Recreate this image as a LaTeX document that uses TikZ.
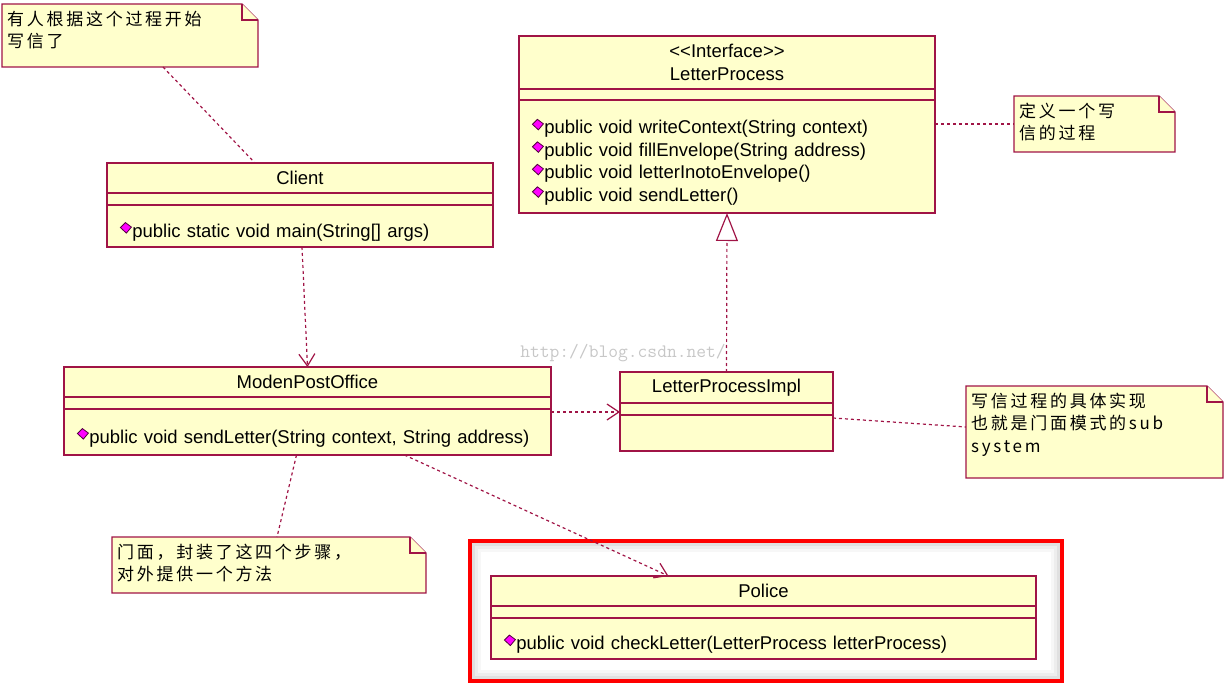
\documentclass[tikz,border=0pt]{standalone}
\usepackage{fontspec}
\setmainfont{Liberation Sans}
\newfontfamily\cjkfont[LetterSpace=16]{Noto Sans CJK SC}
\usetikzlibrary{positioning,arrows.meta,calc,backgrounds}

\definecolor{umlred}{RGB}{160,20,70}
\definecolor{umlfill}{RGB}{255,255,204}
\definecolor{opmagenta}{RGB}{255,0,255}
\definecolor{opedge}{RGB}{80,0,60}
\definecolor{markred}{RGB}{255,0,0}

% small operation icon in front of each method
\newcommand{\opmark}{\tikz[baseline={(0pt,-9pt)}]{\filldraw[draw=opedge, fill=opmagenta, line width=0.8pt] (0pt,0.5pt) -- (5pt,5.5pt) -- (11pt,1pt) -- (6pt,-5pt) -- cycle;}\hspace{0.5pt}}
% taller first line, pushes the methods down a little
\newcommand{\opsgap}{\rule{0pt}{26pt}}
% paper with folded corner behind a note
\newcommand{\notepaper}[1]{%
  \filldraw[notepaper] (#1.north west) -- ([xshift=-16pt]#1.north east) -- ([yshift=-16pt]#1.north east) -- (#1.south east) -- (#1.south west) -- cycle;
  \draw[notepaper] ([xshift=-16pt]#1.north east) |- ([yshift=-16pt]#1.north east);}

\begin{document}
\begin{tikzpicture}[x=1pt,y=-1pt]
		\tikzset{
			clsname/.style={draw=umlred, fill=umlfill, line width=1.2pt, outer sep=0pt, inner sep=2pt, align=center, font=\fontsize{18.5}{22.5}\selectfont},
			clsattr/.style={draw=umlred, fill=umlfill, line width=1.2pt, outer sep=0pt, inner sep=0pt, minimum height=12},
			clsops/.style={draw=umlred, fill=umlfill, line width=1.2pt, outer sep=0pt, inner xsep=13pt, inner ysep=0pt, align=left, font=\fontsize{18.5}{22.5}\selectfont},
			notebox/.style={anchor=north west, inner sep=0pt, outer sep=0pt},
			notetext/.style={anchor=north west, inner xsep=5pt, inner ysep=6.5pt, align=left, font=\cjkfont\fontsize{17}{22.5}\selectfont},
			notepaper/.style={draw=umlred, fill=umlfill, line width=1.2pt, line join=miter},
			noteline/.style={draw=umlred, line width=1.2pt, dash pattern=on 3pt off 3pt},
			dep/.style={noteline, -{Straight Barb[length=12pt, width=16pt, line width=1.2pt]}},
			realize/.style={noteline, -{Triangle[open, length=28pt, width=22pt, line width=1.2pt]}},
			hiframe/.style={draw=markred, line width=3.5pt},
			shadow/.style={line width=3pt, draw=black!#1},
			watermark/.style={text=black!22, font=\ttfamily\fontsize{19}{19}\selectfont}
		}
		\useasboundingbox (0,0) rectangle (1228,684);

		% Highlight round Police
		\draw[shadow=3] (479.5,550.5) rectangle (1052.5,671.5);
		\draw[shadow=7] (476.5,547.5) rectangle (1055.5,674.5);
		\draw[shadow=12] (473.5,544.5) rectangle (1058.5,677.5);
		\draw[hiframe] (470,541) rectangle (1062,681);

		\node[watermark] (blog) at (623,353) {http://blog.csdn.net/};

		% Client
		\node[clsname, anchor=north west, minimum width=386, minimum height=30] (client) at (107,163) {Client};
		\node[clsattr, minimum width=386, below=0pt of client] (client-attr) {};
		\node[clsops, text width=360pt, minimum height=42, below=0pt of client-attr] (client-ops) {\opsgap\opmark public static void main(String[] args)};

		% Interface LetterProcess
		\node[clsname, anchor=north west, minimum width=416, minimum height=53] (iface) at (519,36) {<\kern0pt<Interface>\kern0pt>\\LetterProcess};
		\node[clsattr, minimum width=416, minimum height=11, below=0pt of iface] (iface-attr) {};
		\node[clsops, text width=390pt, minimum height=113, below=0pt of iface-attr] (iface-ops) {\opsgap\opmark public void writeContext(String context)\\
			\opmark public void fillEnvelope(String address)\\
			\opmark public void letterInotoEnvelope()\\
			\opmark public void sendLetter()};

		% ModenPostOffice
		\node[clsname, anchor=north west, minimum width=487, minimum height=30] (mpo) at (64,367) {ModenPostOffice};
		\node[clsattr, minimum width=487, below=0pt of mpo] (mpo-attr) {};
		\node[clsops, text width=461pt, minimum height=46, below=0pt of mpo-attr] (mpo-ops) {\opsgap\opmark public void sendLetter(String context, String address)};

		% LetterProcessImpl
		\node[clsname, anchor=north west, minimum width=213, minimum height=31] (impl) at (620,372) {LetterProcessImpl};
		\node[clsattr, minimum width=213, below=0pt of impl] (impl-attr) {};
		\node[clsops, text width=187pt, minimum height=36, below=0pt of impl-attr] (impl-ops) {};

		% Police
		\node[clsname, anchor=north west, minimum width=545, minimum height=30] (police) at (491,576) {Police};
		\node[clsattr, minimum width=545, below=0pt of police] (police-attr) {};
		\node[clsops, text width=519pt, minimum height=41, below=0pt of police-attr] (police-ops) {\opsgap\opmark public void checkLetter(LetterProcess letterProcess)};

		% Notes
		\node[notebox, minimum width=256, minimum height=63, label={[notetext, name=note-client-txt]north west:{有人根据这个过程开始\\写信了}}] (note-client) at (2,4) {};
		\node[notebox, minimum width=161, minimum height=56, label={[notetext, name=note-if-txt]north west:{定义一个写\\信的过程}}] (note-if) at (1014,96) {};
		\node[notebox, minimum width=314, minimum height=56, label={[notetext, name=note-mpo-txt]north west:{门面，封装了这四个步骤，\\对外提供一个方法}}] (note-mpo) at (112,537) {};
		\node[notebox, minimum width=257, minimum height=92, label={[notetext, name=note-impl-txt]north west:{写信过程的具体实现\\也就是门面模式的sub\\system}}] (note-impl) at (966,386) {};

		\begin{scope}[on background layer]
			\foreach \n in {note-client,note-if,note-mpo,note-impl} {\notepaper{\n}}
		\end{scope}

		% Connectors
		\draw[noteline] ([xshift=33pt]note-client.south) -- ([xshift=-45pt]client.north);
		\draw[noteline] (note-if.west -| iface-ops.east) -- (note-if.west);
		\draw[noteline] ([xshift=-11pt]mpo-ops.south) -- ([xshift=8pt]note-mpo.north);
		\draw[noteline] ($(impl-ops.north east)+(0,3)$) -- ($(note-impl.west)+(0,-5)$);
		\draw[dep] ([xshift=2pt]client-ops.south) -- (mpo.north);
		\coordinate (mpo-out) at ($(mpo-ops.north east)+(0,3)$);
		\draw[dep] (mpo-out) -- (mpo-out -| impl.west);
		\draw[dep] ([xshift=97pt]mpo-ops.south) -- ([xshift=-95pt]police.north);
		\draw[realize] (impl.north) -- (iface-ops.south);

	\end{tikzpicture}
\end{document}
